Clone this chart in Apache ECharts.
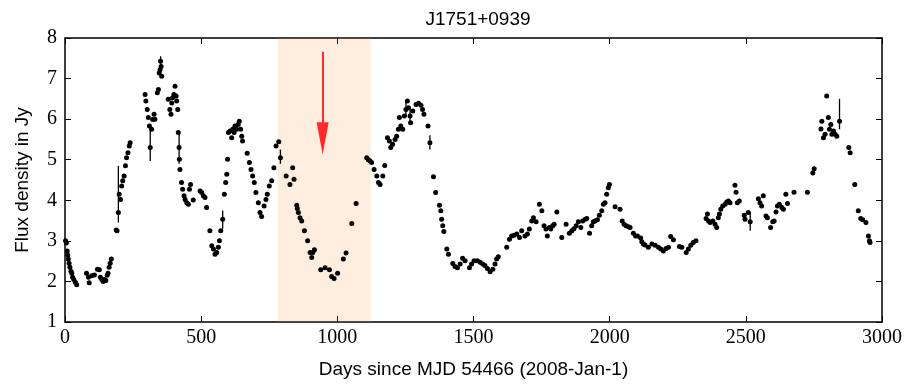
<!DOCTYPE html>
<html>
<head>
<meta charset="utf-8">
<script src="https://cdn.jsdelivr.net/npm/echarts@6/dist/echarts.min.js"></script>
<style>html,body{margin:0;padding:0;background:#fff}#c{width:906px;height:384px}</style>
</head>
<body>
<div id="c"></div>
<script>
const chartTitle = 'J1751+0939';
const xAxisName = 'Days since MJD 54466 (2008-Jan-1)';
const yAxisName = 'Flux density in Jy';
const xTicks = [0, 500, 1000, 1500, 2000, 2500, 3000];
const yTicks = [1, 2, 3, 4, 5, 6, 7, 8];
const shadedRange = [782, 1122];
const arrowDay = 946;
const arrowFrom = 7.66;
const arrowTo = 5.18;

const days = [2,5,8,10,12,15,18,22,25,28,32,38,43,79,86,89,98,108,119,126,130,135,140,145,150,155,158,162,166,170,
188,191,196,199,204,208,212,217,222,226,231,236,239,294,297,302,306,310,313,318,322,327,330,339,343,346,349,351,353,355,
379,385,389,392,395,400,404,408,410,414,416,419,420,422,428,432,437,441,447,453,457,461,471,496,502,508,514,520,
532,539,545,551,557,563,567,572,579,585,590,594,597,600,606,612,616,621,624,630,636,640,645,649,652,
669,677,683,689,695,701,710,716,722,731,738,743,750,759,767,775,785,791,812,826,836,841,851,853,857,863,869,879,891,900,906,910,916,
939,955,971,979,988,1001,1022,1032,1053,1069,1108,1114,1120,1126,1135,1145,1151,1157,1167,1174,1184,1191,1196,1203,1212,1218,1224,1228,1233,1240,1246,1252,1257,1261,1267,1269,1277,
1289,1298,1307,1313,1318,1333,1340,1353,1361,1375,1380,1383,1387,1391,1402,1408,1424,1432,1441,1451,1460,1469,1485,1493,1502,1514,1524,1534,1542,1551,1561,1571,1579,1585,1591,
1622,1632,1640,1649,1659,1669,1677,1689,1698,1705,1714,1720,1730,1742,1751,1759,1766,1771,1779,1784,1791,1796,1806,1824,1840,1852,1861,1869,1877,1885,1894,1901,1910,1916,1926,1934,1940,1946,1955,1962,1971,1977,1983,1989,1995,1999,
2020,2038,2046,2053,2060,2069,2075,2087,2095,2102,2114,2118,2124,2130,2142,2155,2167,2179,2188,2197,2207,2216,2224,2234,2256,2265,2281,2289,2298,2307,2317,
2354,2359,2363,2369,2379,2387,2393,2399,2403,2408,2415,2424,2430,2436,2442,2460,2464,2469,2476,2494,2497,2509,2516,2546,2552,2558,2564,2574,2579,2591,2599,2604,2611,2616,2623,2632,2638,2647,2653,2677,2726,
2746,2751,2776,2779,2785,2791,2797,2803,2807,2812,2816,2822,2828,2834,2844,2878,2883,2900,2913,2922,2929,2941,2950,2954,2956];

const flux = [3.0,2.95,2.75,2.65,2.55,2.45,2.35,2.25,2.2,2.1,2.05,1.98,1.92,2.2,2.1,1.97,2.14,2.16,2.3,2.29,2.1,2.05,2.0,2.05,2.02,2.15,2.2,2.35,2.45,2.55,
3.27,3.25,3.7,4.15,4.02,4.35,4.48,4.6,4.85,5.05,5.17,5.34,5.42,6.61,6.45,6.24,6.04,5.83,5.3,5.75,5.99,6.12,6.0,6.65,6.73,7.14,7.22,7.43,7.3,7.06,
6.49,6.24,6.12,6.4,6.53,6.61,6.81,6.57,6.45,6.24,5.67,5.3,5.01,4.76,4.44,4.27,4.11,4.02,3.94,3.9,4.27,4.39,4.01,4.23,4.19,4.11,4.07,3.82,
3.25,2.88,2.8,2.67,2.71,2.84,3.0,3.25,3.53,4.15,4.44,4.64,5.01,5.67,5.71,5.54,5.75,5.67,5.83,5.75,5.87,5.95,5.75,5.58,5.46,
5.16,4.93,4.76,4.6,4.44,4.19,3.94,3.7,3.6,3.86,4.02,4.15,4.35,4.48,4.8,5.34,5.44,5.05,4.6,4.39,4.8,4.52,3.88,3.8,3.7,3.57,3.49,3.25,3.0,2.71,2.59,2.71,2.78,
2.29,2.34,2.29,2.12,2.07,2.2,2.55,2.7,3.43,3.92,5.05,5.0,4.97,4.93,4.76,4.6,4.44,4.39,4.6,4.86,5.54,5.46,5.3,5.38,5.5,5.58,5.75,6.04,5.83,5.75,6.08,6.24,6.45,6.28,6.08,5.91,6.2,
6.36,6.39,6.34,6.24,6.12,5.83,5.42,4.58,4.19,3.88,3.74,3.53,3.37,3.23,2.8,2.67,2.44,2.37,2.34,2.43,2.57,2.51,2.34,2.43,2.51,2.51,2.47,2.43,2.39,2.32,2.24,2.3,2.43,2.55,2.61,
2.84,3.04,3.12,3.14,3.17,3.08,3.25,3.12,3.17,3.29,3.49,3.57,3.47,3.9,3.74,3.37,3.29,3.12,3.33,3.29,3.37,3.41,3.71,3.08,3.41,3.19,3.25,3.3,3.37,3.47,3.33,3.49,3.53,3.55,3.19,3.37,3.47,3.49,3.52,3.63,3.74,3.9,3.94,4.15,4.31,4.39,
3.84,3.78,3.49,3.41,3.37,3.35,3.33,3.19,3.12,3.12,3.07,2.98,2.92,2.9,2.84,2.92,2.89,2.84,2.8,2.75,2.81,2.84,3.11,3.03,2.86,2.84,2.71,2.8,2.89,2.96,3.0,
3.55,3.66,3.49,3.45,3.49,3.41,3.33,3.57,3.66,3.78,3.86,3.9,3.96,3.98,3.94,4.37,4.2,3.94,3.98,3.63,3.53,3.7,3.47,4.04,3.94,3.86,4.11,3.61,3.57,3.33,3.47,3.49,3.71,3.86,3.9,3.82,3.78,4.15,3.92,4.2,4.2,
4.67,4.78,5.76,5.95,5.54,5.63,6.57,6.04,5.75,5.87,5.63,5.71,5.63,5.58,5.95,5.3,5.17,4.39,3.74,3.55,3.52,3.45,3.12,3.0,2.96];

const errDays = [196, 313, 351, 579, 791, 1252, 1267, 1340, 2516, 2844, 419];
const errLow  = [3.45, 4.97, 7.3, 3.3, 4.9, 6.05, 5.9, 5.25, 3.25, 5.75, 4.9];
const errHigh = [4.85, 5.85, 7.55, 3.75, 5.25, 6.45, 6.3, 5.6, 3.7, 6.5, 5.7];

const chart = echarts.init(document.getElementById('c'));
const pts = days.map((d, i) => [d, flux[i]]);
const errData = errDays.map((d, i) => [d, errLow[i], errHigh[i]]);
const serif = 'Liberation Serif';
const sans = 'Liberation Sans';

chart.setOption({
  animation: false,
  backgroundColor: '#ffffff',
  title: {
    text: chartTitle, left: 473, top: 5, textAlign: 'center',
    textStyle: {fontFamily: sans, fontSize: 19, fontWeight: 'normal', color: '#000'}
  },
  grid: {left: 65, right: 24, top: 38, bottom: 61},
  xAxis: [{
    type: 'value', min: xTicks[0], max: xTicks[xTicks.length - 1], interval: 500,
    position: 'bottom',
    name: xAxisName, nameLocation: 'middle', nameGap: 38,
    nameTextStyle: {fontFamily: sans, fontSize: 19, color: '#000'},
    axisLine: {show: true, onZero: false, lineStyle: {color: '#000', width: 1.5}},
    axisTick: {show: true, inside: true, length: 6, lineStyle: {color: '#000', width: 1}},
    axisLabel: {fontFamily: serif, fontSize: 20, color: '#000', margin: 6, formatter: v => String(v)},
    splitLine: {show: false}
  }, {
    type: 'value', min: xTicks[0], max: xTicks[xTicks.length - 1], interval: 500,
    position: 'top',
    axisLine: {show: true, onZero: false, lineStyle: {color: '#000', width: 1.5}},
    axisTick: {show: true, inside: true, length: 6, lineStyle: {color: '#000', width: 1}},
    axisLabel: {show: false}, splitLine: {show: false}
  }],
  yAxis: [{
    type: 'value', min: yTicks[0], max: yTicks[yTicks.length - 1], interval: 1,
    position: 'left',
    name: yAxisName, nameLocation: 'middle', nameGap: 33, nameRotate: 90,
    nameTextStyle: {fontFamily: sans, fontSize: 19, color: '#000'},
    axisLine: {show: true, onZero: false, lineStyle: {color: '#000', width: 1.5}},
    axisTick: {show: true, inside: true, length: 6, lineStyle: {color: '#000', width: 1}},
    axisLabel: {fontFamily: serif, fontSize: 20, color: '#000', margin: 8},
    splitLine: {show: false}
  }, {
    type: 'value', min: yTicks[0], max: yTicks[yTicks.length - 1], interval: 1,
    position: 'right',
    axisLine: {show: true, onZero: false, lineStyle: {color: '#000', width: 1.5}},
    axisTick: {show: true, inside: true, length: 6, lineStyle: {color: '#000', width: 1}},
    axisLabel: {show: false}, splitLine: {show: false}
  }],
  series: [{
    type: 'custom',
    z: 2,
    data: errData,
    renderItem: function (params, api) {
      const top = api.coord([api.value(0), api.value(2)]);
      const bot = api.coord([api.value(0), api.value(1)]);
      return {type: 'line', shape: {x1: top[0], y1: top[1], x2: bot[0], y2: bot[1]},
        style: {stroke: '#000', lineWidth: 1.3}};
    },
    silent: true
  }, {
    type: 'scatter',
    z: 3,
    data: pts,
    symbol: 'circle',
    symbolSize: 5,
    itemStyle: {color: '#000', opacity: 1},
    silent: true
  }, {
    type: 'scatter',
    z: 5,
    data: [],
    silent: true,
    markArea: {
      silent: true,
      itemStyle: {color: 'rgba(245,150,60,0.17)'},
      data: [[{xAxis: shadedRange[0]}, {xAxis: shadedRange[1]}]]
    },
    markLine: {
      silent: true,
      symbol: ['none', 'triangle'],
      symbolSize: [12, 32],
      label: {show: false},
      lineStyle: {color: '#ff2a2a', width: 2, type: 'solid'},
      data: [[{coord: [arrowDay, arrowFrom]}, {coord: [arrowDay, arrowTo + 0.35]}]]
    }
  }]
});
</script>
</body>
</html>
